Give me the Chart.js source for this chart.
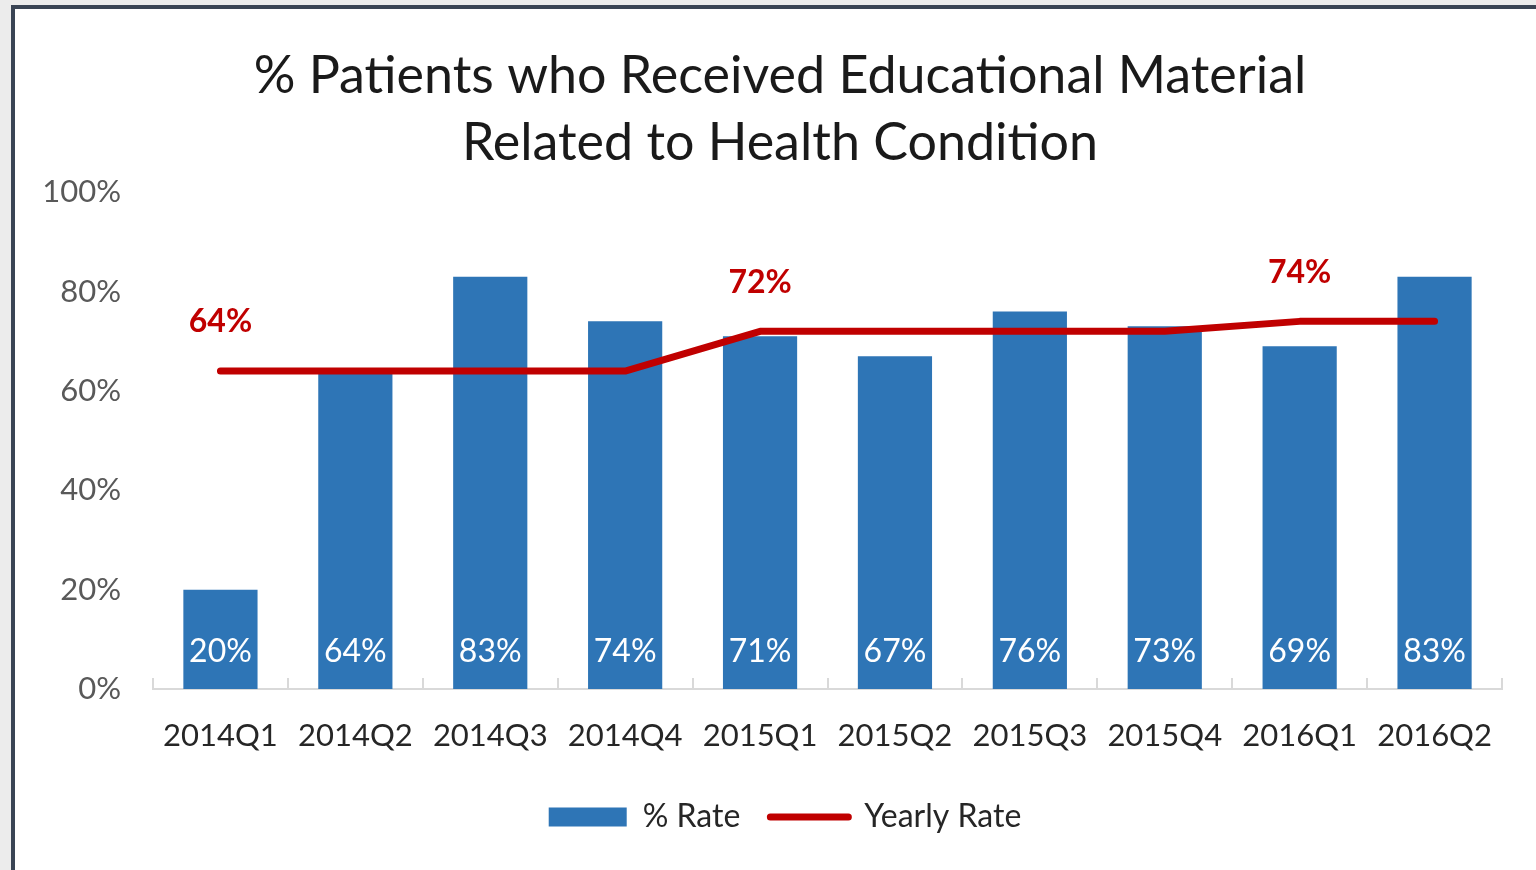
<!DOCTYPE html>
<html>
<head>
<meta charset="utf-8">
<script src="https://cdn.jsdelivr.net/npm/chart.js@4.4.1/dist/chart.umd.min.js"></script>
<style>
    html, body { margin: 0; padding: 0; background: #ececec; overflow: hidden; }
    #frame {
        position: absolute; left: 11px; top: 5px; width: 1530px; height: 870px;
        background: #fff; border-left: 4px solid #3a4454; border-top: 4px solid #3a4454;
    }
    #edu_chart { position: absolute; left: 0; top: 0; }
</style>
</head>
<body>
<div id="frame"></div>
<canvas id="edu_chart" width="1536" height="870"></canvas>
<script>
var quarters = ["2014Q1", "2014Q2", "2014Q3", "2014Q4", "2015Q1", "2015Q2", "2015Q3", "2015Q4", "2016Q1", "2016Q2"];
var quarter_rate = [20, 64, 83, 74, 71, 67, 76, 73, 69, 83];
var yearly_rate = [64, 64, 64, 64, 72, 72, 72, 72, 74, 74];
var yearly_label_at = [0, 4, 8];   // one label per year
var y_ticks = [0, 20, 40, 60, 80, 100];

var blue = "#2e75b6";
var red = "#c00000";
var font_name = "Lato, 'Open Sans', sans-serif";

// value labels: white inside the bars, bold red above the yearly line
var value_labels = {
    id: "value_labels",
    afterDatasetsDraw: function (chart) {
        var ctx = chart.ctx;
        ctx.save();
        ctx.textAlign = "center";
        ctx.textBaseline = "middle";

        var bars = chart.getDatasetMeta(0).data;
        ctx.fillStyle = "#ffffff";
        ctx.font = "32px " + font_name;
        for (var i = 0; i < bars.length; i += 1) {
            ctx.fillText(quarter_rate[i] + "%", bars[i].x, bars[i].base - 37);
        }

        var pts = chart.getDatasetMeta(1).data;
        ctx.fillStyle = red;
        ctx.font = "bold 32px " + font_name;
        for (var j = 0; j < yearly_label_at.length; j += 1) {
            var k = yearly_label_at[j];
            ctx.fillText(yearly_rate[k] + "%", pts[k].x, pts[k].y - 49);
        }
        ctx.restore();
    }
};

// small tick marks between categories, pointing up from the axis line
var between_ticks = {
    id: "between_ticks",
    beforeDatasetsDraw: function (chart) {
        var xs = chart.scales.x;
        var ctx = chart.ctx;
        var half = (xs.getPixelForValue(1) - xs.getPixelForValue(0)) / 2;
        ctx.save();
        ctx.strokeStyle = "#d9d9d9";
        ctx.lineWidth = 2;
        ctx.beginPath();
        for (var i = 0; i <= quarters.length; i += 1) {
            var px = Math.round(xs.getPixelForValue(i) - half);
            ctx.moveTo(px, xs.top);
            ctx.lineTo(px, xs.top - 11);
        }
        ctx.stroke();
        ctx.restore();
    }
};

// title and legend sit a bit right of the canvas centre in the original
var nudge_boxes = {
    id: "nudge_boxes",
    afterLayout: function (chart) {
        chart.titleBlock.left += 14;
        chart.titleBlock.right += 14;
        chart.legend.left += 19;
        chart.legend.right += 19;
    }
};

var ctx = document.getElementById("edu_chart");

var myChart = new Chart(ctx, {
    type: "bar",
    data: {
        labels: quarters,
        datasets: [
            {
                type: "bar",
                label: "% Rate",
                data: quarter_rate,
                backgroundColor: blue,
                barPercentage: 0.55,
                categoryPercentage: 1.0,
                order: 2
            },
            {
                type: "line",
                label: "Yearly Rate",
                data: yearly_rate,
                borderColor: red,
                backgroundColor: red,
                borderWidth: 7,
                borderCapStyle: "round",
                borderJoinStyle: "round",
                pointRadius: 0,
                tension: 0,
                order: 1
            }
        ]
    },
    options: {
        responsive: false,
        animation: false,
        events: [],
        layout: {
            padding: { left: 30, right: 34, top: 0, bottom: 27 }
        },
        scales: {
            x: {
                offset: true,
                grid: { display: false, drawTicks: false },
                border: { display: true, color: "#d9d9d9", width: 2 },
                ticks: {
                    color: "#262626",
                    font: { family: font_name, size: 31 },
                    padding: 28,
                    maxRotation: 0,
                    autoSkip: false
                },
                afterFit: function (scale) {
                    scale.height = 82;
                }
            },
            y: {
                min: 0,
                max: 100,
                afterBuildTicks: function (scale) {
                    scale.ticks = y_ticks.map(function (v) { return { value: v }; });
                },
                grid: { display: false, drawTicks: false },
                border: { display: false },
                ticks: {
                    color: "#595959",
                    font: { family: font_name, size: 31 },
                    padding: 32,
                    callback: function (v) { return v + "%"; }
                },
                afterFit: function (scale) {
                    scale.width = 123;
                }
            }
        },
        plugins: {
            title: {
                display: true,
                text: ["% Patients who Received Educational Material", "Related to Health Condition"],
                color: "#1a1a1a",
                font: { family: font_name, size: 52, weight: "normal", lineHeight: 1.3 },
                padding: { top: 42, bottom: 15 }
            },
            legend: {
                position: "bottom",
                labels: {
                    usePointStyle: true,
                    pointStyleWidth: 78,
                    boxHeight: 19,
                    padding: 30,
                    color: "#262626",
                    font: { family: font_name, size: 32 },
                    generateLabels: function (chart) {
                        var items = Chart.defaults.plugins.legend.labels.generateLabels(chart);
                        items.sort(function (a, b) { return a.datasetIndex - b.datasetIndex; });
                        items[0].pointStyle = "rect";
                        items[0].lineWidth = 0;
                        items[1].pointStyle = "line";
                        items[1].lineWidth = 7;
                        items[1].strokeStyle = red;
                        items[1].lineCap = "round";
                        return items;
                    }
                }
            },
            tooltip: { enabled: false }
        }
    },
    plugins: [value_labels, between_ticks, nudge_boxes]
});
</script>
</body>
</html>
